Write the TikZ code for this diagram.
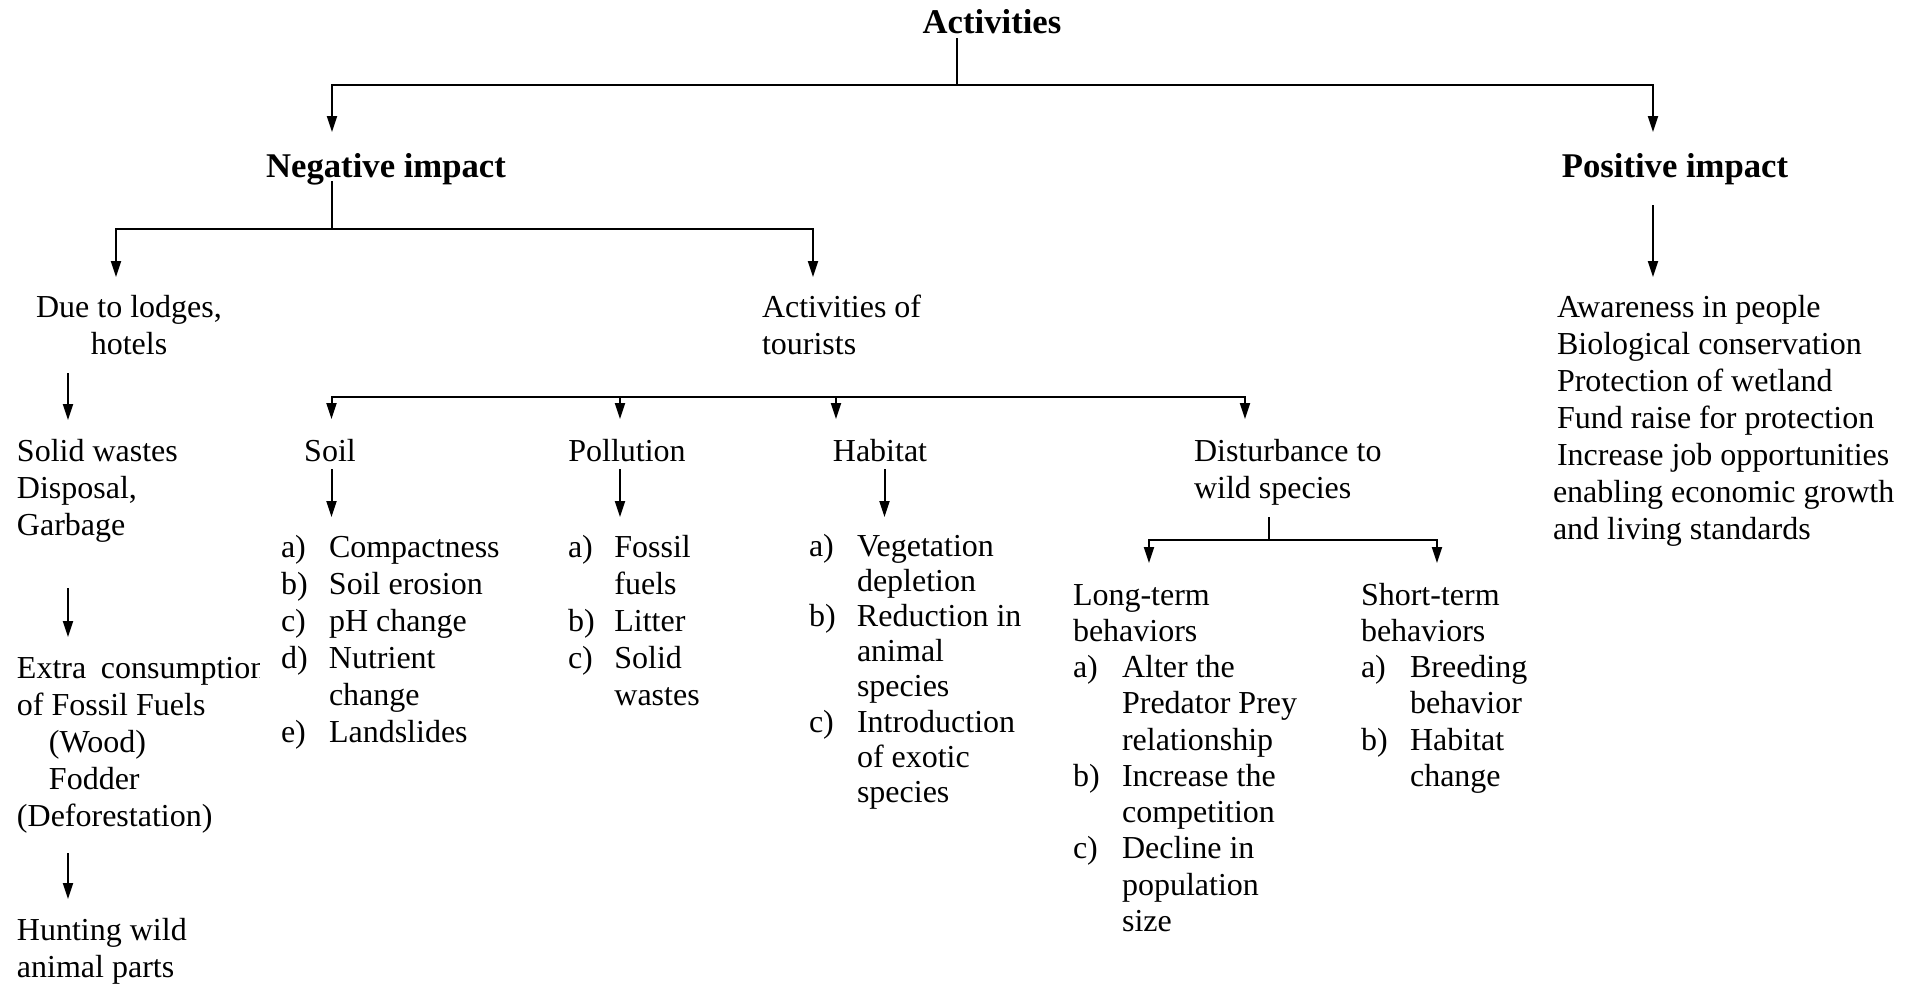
\documentclass[tikz,border=0pt]{standalone}
\usepackage{fontspec}
\setmainfont{Liberation Serif}
\usetikzlibrary{arrows.meta}
\newcommand{\Lt}[1]{\begin{tabular}[t]{@{}l@{}}#1\end{tabular}}
\newcommand{\Ct}[1]{\begin{tabular}[t]{@{}c@{}}#1\end{tabular}}
\newcommand{\Mc}[1]{\multicolumn{2}{@{}l@{}}{#1}}
\begin{document}
\begin{tikzpicture}[x=0.375pt,y=-0.375pt,
  font=\fontsize{12}{13.875}\selectfont,
  every node/.style={inner sep=0pt,outer sep=0pt},
  ln/.style={line width=0.75pt},
  arr/.style={line width=0.75pt,-{Triangle[length=6pt,width=3.75pt]}},
  hd/.style={font=\fontsize{13}{15}\selectfont\bfseries},
  txt/.style={anchor=base west}]
\useasboundingbox (0,0) rectangle (1916,985);

% ---------- text nodes ----------
\node[hd,anchor=base] (act) at (992,33) {Activities};
\node[hd,anchor=base] (neg) at (386,177) {Negative impact};
\node[hd,anchor=base] (pos) at (1675,177) {Positive impact};

\node[anchor=base] (due) at (129,317) {\Ct{Due to lodges,\\hotels}};
\node[txt] (tou) at (762,317) {\Lt{Activities of\\tourists}};

\node[txt] (poslist) at (1553,317) {\Lt{\hspace*{1.5pt}Awareness in people\\
  \hspace*{1.5pt}Biological conservation\\
  \hspace*{1.5pt}Protection of wetland\\
  \hspace*{1.5pt}Fund raise for protection\\
  \hspace*{1.5pt}Increase job opportunities\\
  enabling economic growth\\
  and living standards}};

\node[txt] (solid) at (17,461) {\Lt{Solid wastes\\Disposal,\\Garbage}};
\begin{scope}
  \clip (0,640) rectangle (259,690);
  \node[txt] (extra) at (17,678) {Extra\hspace{5.5pt}consumption};
\end{scope}
\node[txt] (fossil) at (17,715) {\Lt{of Fossil Fuels\\\hspace*{12pt}(Wood)\\\hspace*{12pt}Fodder\\(Deforestation)}};
\node[txt] (hunt) at (17,940) {\Lt{Hunting wild\\animal parts}};

\node[anchor=base] (soil) at (330,461) {Soil};
\node[anchor=base] (pol) at (627,461) {Pollution};
\node[anchor=base] (hab) at (880,461) {Habitat};
\node[txt] (dis) at (1194,461) {\Lt{Disturbance to\\wild species}};

\node[txt] (soillist) at (281,557) {\begin{tabular}[t]{@{}p{18pt}@{}l@{}}
  a)&Compactness\\b)&Soil erosion\\c)&pH change\\d)&Nutrient\\&change\\e)&Landslides\end{tabular}};
\node[txt] (pollist) at (568,557) {\begin{tabular}[t]{@{}p{17.4pt}@{}l@{}}
  a)&Fossil\\&fuels\\b)&Litter\\c)&Solid\\&wastes\end{tabular}};
\node[txt] (hablist) at (809,556) {\fontsize{12}{13.2}\selectfont\begin{tabular}[t]{@{}p{18pt}@{}l@{}}
  a)&Vegetation\\&depletion\\b)&Reduction in\\&animal\\&species\\c)&Introduction\\&of exotic\\&species\end{tabular}};
\node[txt] (long) at (1073,605) {\fontsize{12}{13.6}\selectfont\begin{tabular}[t]{@{}p{18.4pt}@{}l@{}}
  \Mc{Long-term}\\\Mc{behaviors}\\a)&Alter the\\&Predator Prey\\&relationship\\b)&Increase the\\&competition\\c)&Decline in\\&population\\&size\end{tabular}};
\node[txt] (short) at (1361,605) {\fontsize{12}{13.6}\selectfont\begin{tabular}[t]{@{}p{18.4pt}@{}l@{}}
  \Mc{Short-term}\\\Mc{behaviors}\\a)&Breeding\\&behavior\\b)&Habitat\\&change\end{tabular}};

% ---------- connector points ----------
\coordinate (actS) at (957,38);
\coordinate (actJ) at (957,85);
\coordinate (negIn) at (332,132);
\coordinate (posIn) at (1653,132);
\coordinate (negS) at (332,181);
\coordinate (negJ) at (332,229);
\coordinate (dueIn) at (116,277);
\coordinate (touIn) at (813,277);
\coordinate (posS) at (1653,205);
\coordinate (posOut) at (1653,277);
\coordinate (dueS) at (68,373);
\coordinate (solidIn) at (68,420);
\coordinate (solidS) at (68,588);
\coordinate (extraIn) at (68,637);
\coordinate (extraS) at (68,853);
\coordinate (huntIn) at (68,899);
\coordinate (touJ) at (620,397);
\coordinate (soilIn) at (331.5,419);
\coordinate (polIn) at (620,419);
\coordinate (habJ) at (836,397);
\coordinate (habIn) at (836,419);
\coordinate (disIn) at (1245,419);
\coordinate (soilS) at (331.5,469);
\coordinate (soilOut) at (331.5,517);
\coordinate (polS) at (620,469);
\coordinate (polOut) at (620,517);
\coordinate (habS) at (884.5,469);
\coordinate (habOut) at (884.5,517);
\coordinate (disS) at (1269,517);
\coordinate (disJ) at (1269,540);
\coordinate (longIn) at (1149,563);
\coordinate (shortIn) at (1437,563);

% ---------- connectors ----------
\draw[ln] (actS) -- (actJ);
\draw[arr] (actJ) -| (negIn);
\draw[arr] (actJ) -| (posIn);
\draw[ln] (negS) -- (negJ);
\draw[arr] (negJ) -| (dueIn);
\draw[arr] (negJ) -| (touIn);
\draw[arr] (posS) -- (posOut);
\draw[arr] (dueS) -- (solidIn);
\draw[arr] (solidS) -- (extraIn);
\draw[arr] (extraS) -- (huntIn);
\draw[arr] (touJ) -| (soilIn);
\draw[arr] (touJ) -| (disIn);
\draw[arr] (touJ) -- (polIn);
\draw[arr] (habJ) -- (habIn);
\draw[arr] (soilS) -- (soilOut);
\draw[arr] (polS) -- (polOut);
\draw[arr] (habS) -- (habOut);
\draw[ln] (disS) -- (disJ);
\draw[arr] (disJ) -| (longIn);
\draw[arr] (disJ) -| (shortIn);
\end{tikzpicture}
\end{document}
